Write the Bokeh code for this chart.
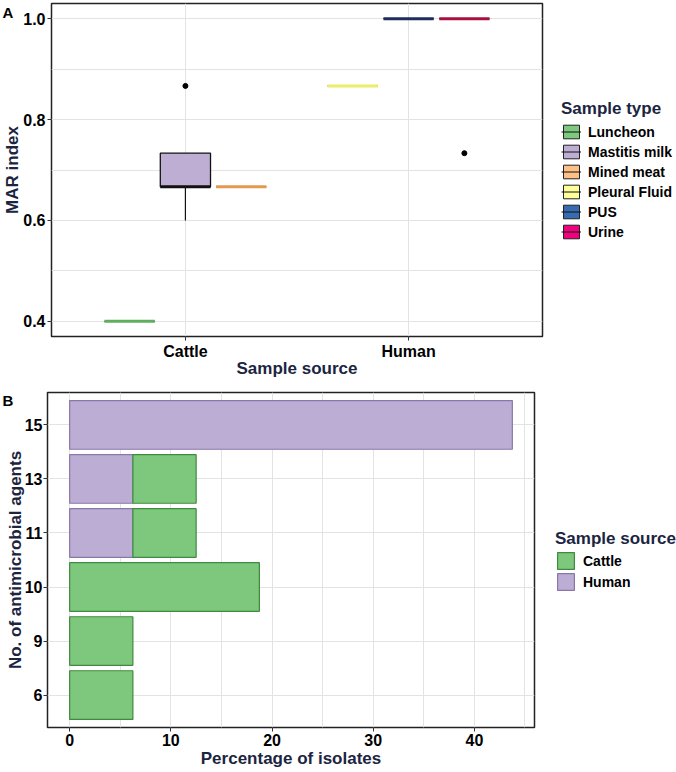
import numpy as np
from bokeh.plotting import figure
from bokeh.models import (FixedTicker, Legend, LegendItem, Range1d, ColumnDataSource,
                          PrintfTickFormatter, GridBox, Column)
from bokeh.core.properties import value
from bokeh.embed import file_html
from bokeh.resources import INLINE

# ---------------- data ----------------
agents_tested = 15
sample_types = ["Luncheon", "Mastitis milk", "Mined meat", "Pleural Fluid", "PUS", "Urine"]
sample_sources = ["Cattle", "Cattle", "Cattle", "Human", "Human", "Human"]
source_names = ["Cattle", "Human"]
# number of antimicrobial agents each isolate resisted
resisted = [
    [6],
    [9, 10, 10, 11, 13],
    [10],
    [13],
    [15, 15],
    [15, 15, 15, 15, 15, 11],
]

agent_counts = ["6", "9", "10", "11", "13", "15"]
cattle_pct = [6.25, 6.25, 18.75, 6.25, 6.25, 0.0]
human_pct = [0.0, 0.0, 0.0, 6.25, 6.25, 43.75]

panel_tags = ["A", "B"]

# ---------------- style ----------------
FONT = "Liberation Sans"
NAVY = "#1b2541"
GRID = "#e3e3e3"
W, H_A, H_B = 676, 385, 387
type_colors = ["#7FC97F", "#BEAED4", "#FDC086", "#FFFF99", "#386CB0", "#F0027F"]
median_colors = ["#5fae5f", "#111111", "#e39a4e", "#eded6a", "#1d2d5c", "#a8103f"]
cattle_fill, cattle_line = "#7ec87e", "#3f8a3f"
human_fill, human_line = "#bcadd4", "#8877a8"
NAN = [float("nan")]  # legend-key stand-ins carry no visible geometry


def box_stats(vals):
    v = np.asarray(vals, float) / agents_tested
    q1, med, q3 = np.percentile(v, [25, 50, 75])
    iqr = q3 - q1
    lo_lim, hi_lim = q1 - 1.5 * iqr, q3 + 1.5 * iqr
    inside = v[(v >= lo_lim - 1e-9) & (v <= hi_lim + 1e-9)]
    outl = v[(v < lo_lim - 1e-9) | (v > hi_lim + 1e-9)]
    return q1, med, q3, inside.min(), inside.max(), outl


def style_axes(p):
    for ax in (p.xaxis, p.yaxis):
        ax.axis_line_color = None
        ax.major_tick_out = 4
        ax.major_tick_in = 0
        ax.major_tick_line_color = "#333333"
        ax.minor_tick_line_color = None
        ax.major_label_text_font = FONT
        ax.major_label_text_font_style = "bold"
        ax.major_label_text_font_size = "16px"
        ax.major_label_text_color = "black"
        ax.major_label_standoff = 2
        ax.axis_label_text_font = FONT
        ax.axis_label_text_font_style = "bold"
        ax.axis_label_text_font_size = "17px"
        ax.axis_label_text_color = NAVY
        ax.axis_label_standoff = -2
    p.outline_line_color = "#222222"
    p.outline_line_width = 1.5
    p.xgrid.grid_line_color = GRID
    p.ygrid.grid_line_color = GRID
    p.background_fill_color = "white"
    p.border_fill_color = "white"


def key_legend(items, title, loc, glyph_w, glyph_h, spacing, label_h, title_gap):
    return Legend(items=items, location=loc, title=title,
                  title_text_font=FONT, title_text_font_style="bold", title_text_font_size="17px",
                  title_text_color=NAVY, title_standoff=title_gap,
                  label_text_font=FONT, label_text_font_style="bold", label_text_font_size="14px",
                  label_text_color="black", label_standoff=7, label_height=label_h,
                  glyph_width=glyph_w, glyph_height=glyph_h, spacing=spacing, padding=0, margin=0,
                  border_line_color=None, background_fill_alpha=0)


# ---------------- panel A: MAR index boxplots ----------------
pa = figure(width=W, height=H_A, output_backend="svg", toolbar_location=None,
            x_range=Range1d(0.4, 2.6), y_range=Range1d(0.37, 1.03),
            min_border_left=51, min_border_right=134, min_border_top=3, min_border_bottom=49,
            x_axis_label="Sample source", y_axis_label="MAR index")
style_axes(pa)
pa.xaxis.axis_label_standoff = -4
pa.xaxis.ticker = FixedTicker(ticks=[1, 2])
pa.xaxis.major_label_overrides = {1: "Cattle", 2: "Human"}
pa.xgrid.ticker = FixedTicker(ticks=[1, 2])
pa.yaxis.ticker = FixedTicker(ticks=[0.4, 0.6, 0.8, 1.0], minor_ticks=[0.5, 0.7, 0.9])
pa.yaxis.formatter = PrintfTickFormatter(format="%.1f")
pa.ygrid.ticker = FixedTicker(ticks=[0.4, 0.6, 0.8, 1.0], minor_ticks=[0.5, 0.7, 0.9])
pa.ygrid.minor_grid_line_color = GRID

dodge, box_w = 0.25, 0.225
xs, q1s, meds, q3s, los, his, out_x, out_y = [], [], [], [], [], [], [], []
slot = {s: 0 for s in source_names}
for t, s, vals in zip(sample_types, sample_sources, resisted):
    j = slot[s]
    slot[s] += 1
    x = source_names.index(s) + 1 + (j - 1) * dodge
    q1, med, q3, lo, hi, outl = box_stats(vals)
    xs.append(x); q1s.append(q1); meds.append(med); q3s.append(q3); los.append(lo); his.append(hi)
    out_x += [x] * len(outl); out_y += list(outl)

xs = np.array(xs)
box_src = ColumnDataSource(dict(left=xs - box_w / 2, right=xs + box_w / 2, x=xs,
                                q1=q1s, med=meds, q3=q3s, lo=los, hi=his,
                                fill=type_colors, mcol=median_colors))
pa.segment(x0="x", y0="q3", x1="x", y1="hi", source=box_src, line_color="#111111", line_width=1.2)
pa.segment(x0="x", y0="q1", x1="x", y1="lo", source=box_src, line_color="#111111", line_width=1.2)
pa.quad(left="left", right="right", bottom="q1", top="q3", source=box_src,
        fill_color="fill", line_color="#111111", line_width=1.3)
pa.segment(x0="left", y0="med", x1="right", y1="med", source=box_src,
           line_color="mcol", line_width=3)
pa.scatter(out_x, out_y, size=5, color="black")

# ---------------- panel B: stacked percentage bars ----------------
pb = figure(width=W, height=H_B, output_backend="svg", toolbar_location=None,
            x_range=Range1d(-2.19, 45.94), y_range=Range1d(0.4, 6.6),
            min_border_left=47, min_border_right=142, min_border_top=7, min_border_bottom=45,
            x_axis_label="Percentage of isolates", y_axis_label="No. of antimicrobial agents")
style_axes(pb)
pb.yaxis.axis_label_standoff = -3
pb.yaxis.major_label_standoff = 1
pb.xaxis.axis_label_standoff = 0
ypos = list(range(1, len(agent_counts) + 1))
pb.yaxis.ticker = FixedTicker(ticks=ypos)
pb.yaxis.major_label_overrides = {i: a for i, a in zip(ypos, agent_counts)}
pb.ygrid.ticker = FixedTicker(ticks=ypos)
pb.xaxis.ticker = FixedTicker(ticks=[0, 10, 20, 30, 40], minor_ticks=[5, 15, 25, 35, 45])
pb.xgrid.ticker = FixedTicker(ticks=[0, 10, 20, 30, 40], minor_ticks=[5, 15, 25, 35, 45])
pb.xgrid.minor_grid_line_color = GRID

hy = [y for y, h in zip(ypos, human_pct) if h > 0]
hr = [h for h in human_pct if h > 0]
cy = [y for y, c in zip(ypos, cattle_pct) if c > 0]
cl = [h for h, c in zip(human_pct, cattle_pct) if c > 0]
cr = [h + c for h, c in zip(human_pct, cattle_pct) if c > 0]
pb.hbar(y=hy, left=0, right=hr, height=0.9, fill_color=human_fill,
        line_color=human_line, line_width=1.2)
pb.hbar(y=cy, left=cl, right=cr, height=0.9, fill_color=cattle_fill,
        line_color=cattle_line, line_width=1.2)

# ---------------- transparent page layer: panel tags and legends ----------------
page = figure(width=W, height=H_A + H_B, output_backend="svg", toolbar_location=None,
              x_range=Range1d(0, W), y_range=Range1d(H_A + H_B, 0),
              x_axis_type=None, y_axis_type=None, min_border=0,
              background_fill_color=None, border_fill_color=None, outline_line_color=None)
page.grid.visible = False
page.text(x=[2, 2], y=[12, 400], text=panel_tags, text_font=value(FONT), text_font_style="bold",
          text_font_size="15px", text_baseline="middle", text_color="black")

mid = page.line(x=NAN, y=NAN, line_color="#111111", line_width=1)
items_a = []
for t, c in zip(sample_types, type_colors):
    r = page.quad(left=NAN, right=NAN, top=NAN, bottom=NAN, fill_color=c,
                  line_color="#222222", line_width=1)
    items_a.append(LegendItem(label=t, renderers=[r, mid]))
page.add_layout(key_legend(items_a, "Sample type", (561, 772 - 100 - 140), 20, 17, 3, 17, 4))

k_c = page.quad(left=NAN, right=NAN, top=NAN, bottom=NAN, fill_color=cattle_fill,
                line_color=cattle_line, line_width=1.2)
k_h = page.quad(left=NAN, right=NAN, top=NAN, bottom=NAN, fill_color=human_fill,
                line_color=human_line, line_width=1.2)
page.add_layout(key_legend([LegendItem(label="Cattle", renderers=[k_c]),
                            LegendItem(label="Human", renderers=[k_h])],
                           "Sample source", (555, 180), 21, 21, 0, 19, 1))

panels = Column(children=[Column(children=[pa]), Column(children=[pb])], spacing=0)
layout = GridBox(children=[(panels, 0, 0), (Column(children=[page]), 0, 0)])
open("out.html", "w").write(file_html(layout, INLINE))
